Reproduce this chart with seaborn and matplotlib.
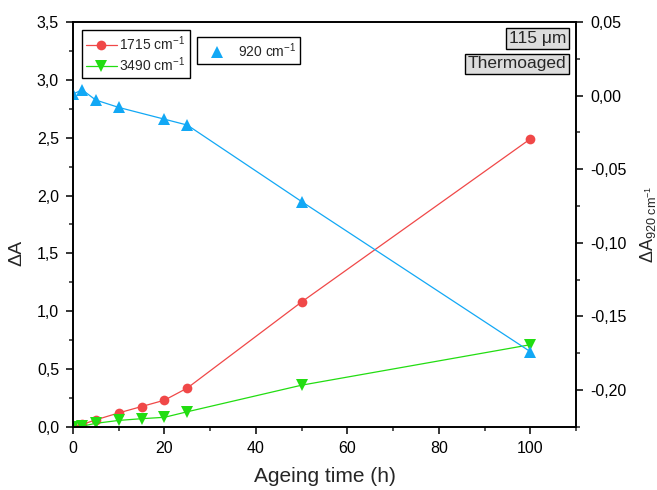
import numpy as np
import pandas as pd
import matplotlib
matplotlib.use("Agg")
import matplotlib.pyplot as plt
from matplotlib.ticker import MultipleLocator, FuncFormatter
from matplotlib.lines import Line2D
import seaborn as sns

# data
hours = [0, 2, 5, 10, 15, 20, 25, 50, 100]
dA_1715 = [0.0, 0.02, 0.06, 0.12, 0.175, 0.23, 0.335, 1.08, 2.49]
dA_3490 = [0.0, 0.005, 0.03, 0.055, 0.07, 0.082, 0.13, 0.36, 0.71]
hours_920 = [0, 2, 5, 10, 20, 25, 50, 100]
dA_920 = [0.001, 0.004, -0.003, -0.008, -0.016, -0.020, -0.072, -0.174]

red = "#F04848"
green = "#22DD11"
blue = "#12A8F5"

sns.set_style("ticks")
plt.rcParams["font.family"] = ["Liberation Sans", "DejaVu Sans"]
plt.rcParams["mathtext.fontset"] = "custom"
plt.rcParams["mathtext.rm"] = "Liberation Sans"
plt.rcParams["mathtext.it"] = "Liberation Sans:italic"

df = pd.DataFrame({"t": hours, "a1715": dA_1715, "a3490": dA_3490})
df920 = pd.DataFrame({"t": hours_920, "a920": dA_920})

fig = plt.figure(figsize=(6.57, 4.9), dpi=100)
ax = fig.add_axes([0.111, 0.129, 0.766, 0.826])
ax2 = ax.twinx()

sns.lineplot(data=df, x="t", y="a1715", ax=ax, color=red, marker="o",
             markersize=7, markeredgewidth=0, lw=0.9, legend=False)
sns.lineplot(data=df, x="t", y="a3490", ax=ax, color=green, marker="v",
             markersize=8, markeredgewidth=0, lw=0.9, legend=False)
sns.lineplot(data=df920, x="t", y="a920", ax=ax2, color=blue, marker="^",
             markersize=8, markeredgewidth=0, lw=0.9, legend=False)

ax.set_xlim(0, 110)
ax.set_ylim(0, 3.5)
ax2.set_ylim(-0.225, 0.05)

ax.xaxis.set_major_locator(MultipleLocator(20))
ax.xaxis.set_minor_locator(MultipleLocator(10))
ax.yaxis.set_major_locator(MultipleLocator(0.5))
ax.yaxis.set_minor_locator(MultipleLocator(0.25))
ax2.yaxis.set_major_locator(MultipleLocator(0.05))
ax2.yaxis.set_minor_locator(MultipleLocator(0.025))

ax.yaxis.set_major_formatter(FuncFormatter(lambda v, p: f"{v:.1f}".replace(".", ",")))
ax2.yaxis.set_major_formatter(FuncFormatter(lambda v, p: f"{v:.2f}".replace(".", ",").replace("-0,00", "0,00")))

for a in (ax, ax2):
    for s in a.spines.values():
        s.set_linewidth(1.2)
        s.set_color("black")
    a.tick_params(which="major", direction="out", length=5, width=1.1,
                  labelsize=11.5, colors="black", pad=5)
    a.tick_params(which="minor", direction="out", length=3, width=1.1)

ax.set_xlabel("Ageing time (h)", fontsize=15, labelpad=8)
ax.set_ylabel("ΔA", fontsize=14)
ax.yaxis.set_label_coords(-0.095, 0.43)
ax2.set_ylabel(r"ΔA$_{\mathrm{920\ cm^{-1}}}$", fontsize=13, labelpad=8)

h1 = [Line2D([], [], color=red, marker="o", markersize=7, markeredgewidth=0, lw=0.9),
      Line2D([], [], color=green, marker="v", markersize=8, markeredgewidth=0, lw=0.9)]
leg1 = ax.legend(h1, ["1715 cm$^{-1}$", "3490 cm$^{-1}$"], loc="upper left",
                 bbox_to_anchor=(0.018, 0.98), fontsize=10, fancybox=False,
                 edgecolor="black", framealpha=1, handlelength=2.2,
                 borderpad=0.3, labelspacing=0.15, handletextpad=0.2,
                 borderaxespad=0)
leg1.get_frame().set_linewidth(1.0)
h2 = [Line2D([], [], color=blue, marker="^", markersize=8, markeredgewidth=0, ls="none")]
leg2 = ax2.legend(h2, ["920 cm$^{-1}$"], loc="upper left",
                  bbox_to_anchor=(0.247, 0.963), fontsize=10, fancybox=False,
                  edgecolor="black", framealpha=1, handlelength=2.2,
                  borderpad=0.3, handletextpad=0.4, borderaxespad=0)
leg2.get_frame().set_linewidth(1.0)

box = dict(boxstyle="square,pad=0.15", fc="#DDDDDD", ec="black", lw=1.0)
ax2.text(0.98, 0.978, "115 μm", transform=ax2.transAxes, ha="right", va="top",
         fontsize=12.5, bbox=box)
ax2.text(0.98, 0.915, "Thermoaged", transform=ax2.transAxes, ha="right", va="top",
         fontsize=12.5, bbox=box)

fig.savefig("out.png", dpi=100)
